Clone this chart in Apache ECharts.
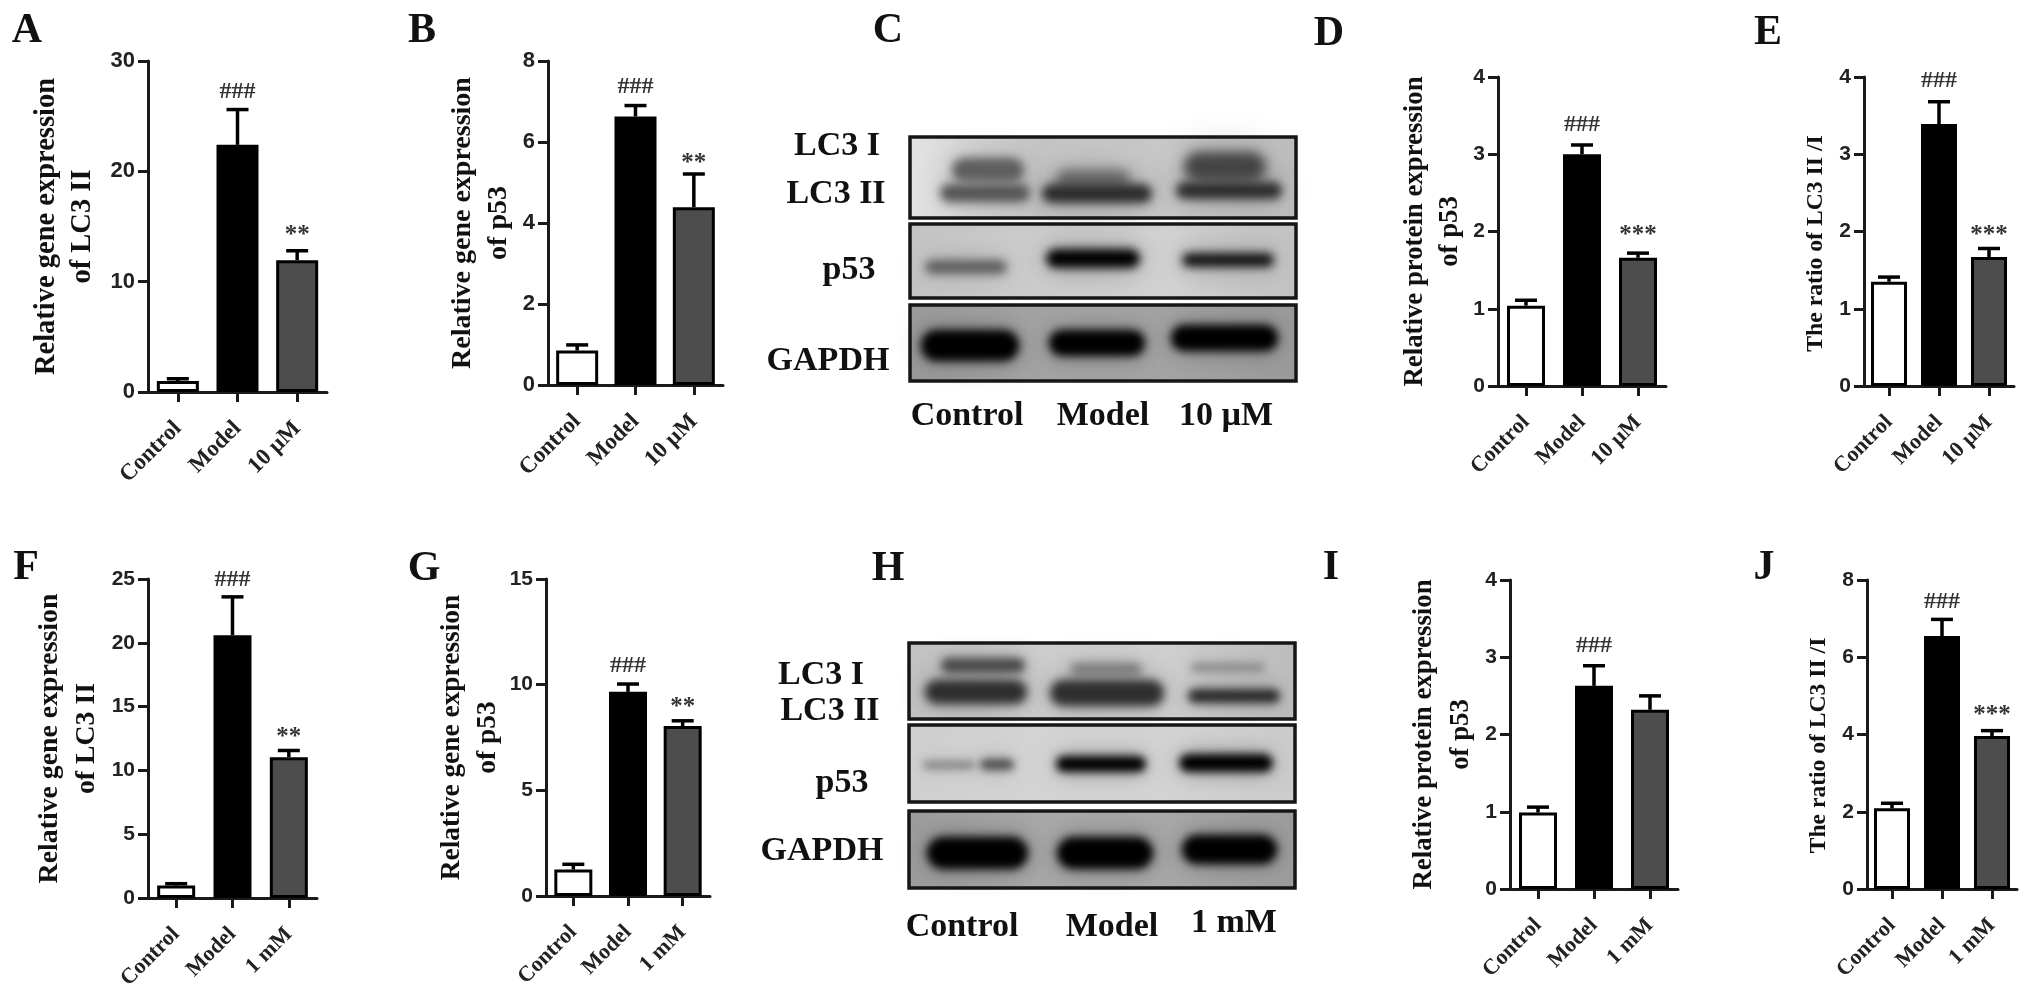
<!DOCTYPE html>
<html><head><meta charset="utf-8">
<style>html,body{margin:0;padding:0;background:#fff}#c{width:2031px;height:999px;filter:blur(0.5px)}</style>
<script src="https://cdn.jsdelivr.net/npm/echarts@6/dist/echarts.min.js"></script>
</head><body><div id="c"></div>
<script>
// ---------- data ----------
const categoriesUM = ['Control', 'Model', '10 µM'];
const categoriesMM = ['Control', 'Model', '1 mM'];

const valuesA = [1.0, 22.4, 11.95];  const errorTopA = [1.2, 25.6, 12.8];
const valuesB = [0.85, 6.63, 4.39];  const errorTopB = [0.99, 6.9, 5.21];
const valuesD = [1.04, 3.0, 1.66];   const errorTopD = [1.11, 3.12, 1.72];
const valuesE = [1.35, 3.39, 1.67];  const errorTopE = [1.41, 3.68, 1.78];
const valuesF = [0.97, 20.6, 11.04]; const errorTopF = [1.12, 23.6, 11.56];
const valuesG = [1.25, 9.66, 8.04];  const errorTopG = [1.5, 10.03, 8.29];
const valuesI = [0.99, 2.63, 2.32];  const errorTopI = [1.06, 2.89, 2.5];
const valuesJ = [2.09, 6.55, 3.96];  const errorTopJ = [2.22, 6.98, 4.1];

const sigA = ['', '###', '**'];
const sigB = ['', '###', '**'];
const sigD = ['', '###', '***'];
const sigE = ['', '###', '***'];
const sigF = ['', '###', '**'];
const sigG = ['', '###', '**'];
const sigI = ['', '###', ''];
const sigJ = ['', '###', '***'];

const titleLC3Gene = 'Relative gene expression\nof LC3 II';
const titleP53Gene = 'Relative gene expression\nof p53';
const titleP53Protein = 'Relative protein expression\nof p53';
const titleRatio = 'The ratio of LC3 II /I';

// ---------- layout ----------
const panels = [
  {v:valuesA,e:errorTopA,s:sigA,c:categoriesUM,t:titleLC3Gene,max:30,step:10,l:148,r:327,top:61,bot:392,bw:42,ts:28.5,gap:47,lh:36,fs:22,xs:23,sg:[0,18,15]},
  {v:valuesB,e:errorTopB,s:sigB,c:categoriesUM,t:titleP53Gene,max:8,step:2,l:548,r:723,top:61,bot:385,bw:42,ts:28,gap:31,lh:36,fs:22,xs:23,sg:[0,19,10]},
  {v:valuesD,e:errorTopD,s:sigD,c:categoriesUM,t:titleP53Protein,max:4,step:1,l:1498,r:1666,top:77,bot:386,bw:38,ts:26.8,gap:30,lh:35,fs:21,xs:22,sg:[0,20,18]},
  {v:valuesE,e:errorTopE,s:sigE,c:categoriesUM,t:titleRatio,max:4,step:1,l:1864,r:2014,top:77,bot:386,bw:36,ts:23.7,gap:33,lh:30,fs:21,xs:22,sg:[0,21,13],pad:24},
  {v:valuesF,e:errorTopF,s:sigF,c:categoriesMM,t:titleLC3Gene,max:25,step:5,l:148,r:317,top:579,bot:898,bw:38,ts:27.8,gap:43,lh:37,fs:21,xs:22,sg:[0,17,13]},
  {v:valuesG,e:errorTopG,s:sigG,c:categoriesMM,t:titleP53Gene,max:15,step:5,l:546,r:710,top:579,bot:896,bw:38,ts:27.4,gap:40,lh:36,fs:21,xs:22,sg:[0,18,13]},
  {v:valuesI,e:errorTopI,s:sigI,c:categoriesMM,t:titleP53Protein,max:4,step:1,l:1510,r:1678,top:580,bot:889,bw:38,ts:26.8,gap:30,lh:37,fs:21,xs:22,sg:[0,20,0]},
  {v:valuesJ,e:errorTopJ,s:sigJ,c:categoriesMM,t:titleRatio,max:8,step:2,l:1867,r:2017,top:580,bot:889,bw:36,ts:23.6,gap:33,lh:30,fs:21,xs:22,sg:[0,18,15],pad:22}
];
const barFills = ['#ffffff', '#000000', '#4d4d4d'];
const SERIF = '"Liberation Serif","Times New Roman",serif';
const SANS = '"Liberation Sans",Arial,sans-serif';

const panelLetters = [['A',27,31],['B',422,31],['C',888,31],['D',1329,34],['E',1768,33],['F',26,568],['G',424,569],['H',888,569],['I',1331,568],['J',1764,568]];
const blotLabels = [
  ['LC3 I',837,146],['LC3 II',836,194],['p53',849,270],['GAPDH',828,361],
  ['Control',967,416],['Model',1103,416],['10 µM',1226,416],
  ['LC3 I',821,675],['LC3 II',830,711],['p53',842,783],['GAPDH',822,851],
  ['Control',962,927],['Model',1112,927],['1 mM',1234,923]
];
// membrane rows: x, y, width, height, fill stops
const blotRows = [
  [910,137,386,81,['#e4e4e4','#c4c4c4','#c8c8c8','#bdbdbd']],
  [910,224,386,74,['#c4c4c4','#cdcdcd','#d2d2d2','#c2c2c2']],
  [910,305,386,76,['#9a9a9a','#a4a4a4','#a4a4a4','#9a9a9a']],
  [909,643,386,76,['#c2c2c2','#cdcdcd','#cfcfcf','#bcbcbc']],
  [909,725,386,77,['#cfcfcf','#d4d4d4','#d4d4d4','#cccccc']],
  [909,811,386,77,['#9c9c9c','#a8a8a8','#a8a8a8','#9c9c9c']]
];
// soft bands: x, y, width, height, colour, softness
const blotBands = [
  [952,158,72,24,'#5e5e5e',5],[1056,170,74,18,'#666666',6],[1184,152,82,30,'#444444',6],
  [940,184,90,18,'#555555',5],[1042,184,110,19,'#2c2c2c',5],[1176,182,106,17,'#2c2c2c',5],
  [925,260,82,14,'#5e5e5e',5],[1046,249,94,19,'#000000',5],[1182,253,92,14,'#111111',5],
  [921,330,98,31,'#000000',4],[1049,330,96,26,'#000000',4],[1171,325,107,26,'#000000',4],
  [941,658,84,15,'#4a4a4a',4],[1070,663,72,13,'#7a7a7a',5],[1191,663,74,9,'#8a8a8a',4],
  [925,680,102,24,'#2e2e2e',5],[1050,680,114,26,'#2e2e2e',5],[1188,689,92,14,'#2a2a2a',4],
  [923,761,52,8,'#808080',4],[980,759,34,11,'#4a4a4a',4],[1056,756,90,16,'#000000',4],[1179,754,94,18,'#000000',4],
  [927,837,101,32,'#000000',4],[1057,837,96,32,'#000000',4],[1182,835,95,29,'#000000',4]
];

// ---------- option built from the above ----------
const grid = [], xAxis = [], yAxis = [], series = [], graphic = [];
panels.forEach((p, i) => {
  grid.push({left:p.l, top:p.top, width:p.r - p.l, height:p.bot - p.top, containLabel:false});
  xAxis.push({
    type:'category', gridIndex:i, data:p.c, boundaryGap:true,
    axisLine:{show:true, onZero:false, lineStyle:{color:'#1a1a1a', width:3}},
    axisTick:{show:true, alignWithLabel:true, length:10, lineStyle:{color:'#1a1a1a', width:3}},
    axisLabel:{show:true, interval:0, rotate:45, margin:33, fontFamily:SERIF, fontWeight:'bold', fontSize:p.xs, color:'#222'}
  });
  yAxis.push({
    type:'value', gridIndex:i, min:0, max:p.max, interval:p.step,
    name:p.t, nameLocation:'middle', nameRotate:90, nameGap:p.gap, nameMoveOverlap:false,
    nameTextStyle:{fontFamily:SERIF, fontWeight:'bold', fontSize:p.ts, lineHeight:p.lh, color:'#111', padding:p.pad ? [0,p.pad,0,0] : 0},
    splitLine:{show:false},
    axisLine:{show:true, lineStyle:{color:'#1a1a1a', width:3}},
    axisTick:{show:true, length:10, lineStyle:{color:'#1a1a1a', width:3}},
    axisLabel:{margin:13, fontFamily:SANS, fontWeight:'bold', fontSize:p.fs, color:'#222'}
  });
  series.push({
    type:'custom', xAxisIndex:i, yAxisIndex:i, z:2, silent:true, clip:false,
    data:p.v.map((v, k) => [k, v, p.e[k]]),
    renderItem(params, api) {
      const k = api.value(0);
      const a = api.coord([k, api.value(1)]);
      const b = api.coord([k, api.value(2)]);
      const kids = [
        {type:'line', shape:{x1:a[0], y1:a[1], x2:b[0], y2:b[1]}, style:{stroke:'#000', lineWidth:3.5}},
        {type:'line', shape:{x1:b[0] - 11, y1:b[1], x2:b[0] + 11, y2:b[1]}, style:{stroke:'#000', lineWidth:3.5}}
      ];
      if (p.s[k]) kids.push({type:'text', style:{text:p.s[k], x:b[0], y:b[1] - p.sg[k], align:'center', verticalAlign:'middle',
        fontFamily:SERIF, fontWeight:'bold', fontSize:p.s[k].includes('#') ? 24 : 25, fill:'#333'}});
      return {type:'group', children:kids};
    }
  });
  series.push({
    type:'bar', xAxisIndex:i, yAxisIndex:i, z:3, silent:true, barWidth:p.bw,
    data:p.v.map((v, k) => ({value:v, itemStyle:{color:barFills[k], borderColor:'#000', borderWidth:3}}))
  });
});
blotRows.forEach(r => {
  graphic.push({type:'rect', z:1, silent:true, shape:{x:r[0], y:r[1], width:r[2], height:r[3]},
    style:{fill:{type:'linear', x:0, y:0, x2:1, y2:0, colorStops:r[4].map((c, j) => ({offset:j / (r[4].length - 1), color:c}))}}});
});
const OFF = 4000;
function softBand(b, blur, opacity, z) {
  graphic.push({type:'rect', z, silent:true, shape:{x:b[0] - OFF, y:b[1], width:b[2], height:b[3], r:b[3] / 2},
    style:{fill:b[4], opacity, shadowColor:b[4], shadowBlur:blur, shadowOffsetX:OFF}});
}
blotBands.forEach(b => softBand(b, b[5] * 6, 0.35, 2));  // wide halo
blotBands.forEach(b => softBand(b, b[5] * 2, 1, 2));     // band core
blotRows.forEach(r => {
  graphic.push({type:'rect', z:3, silent:true, shape:{x:r[0], y:r[1], width:r[2], height:r[3]},
    style:{fill:'transparent', stroke:'#161616', lineWidth:3.5}});
});
panelLetters.forEach(t => graphic.push({type:'text', z:4, silent:true, x:t[1], y:t[2],
  style:{text:t[0], align:'center', verticalAlign:'middle', font:'bold 42px ' + SERIF, fill:'#111'}}));
blotLabels.forEach(t => graphic.push({type:'text', z:4, silent:true, x:t[1], y:t[2],
  style:{text:t[0], align:'center', verticalAlign:'middle', font:'bold 34px ' + SERIF, fill:'#111'}}));

const chart = echarts.init(document.getElementById('c'), null, {renderer:'canvas', width:2031, height:999});
chart.setOption({animation:false, backgroundColor:'#fff', grid, xAxis, yAxis, series, graphic});
</script></body></html>
